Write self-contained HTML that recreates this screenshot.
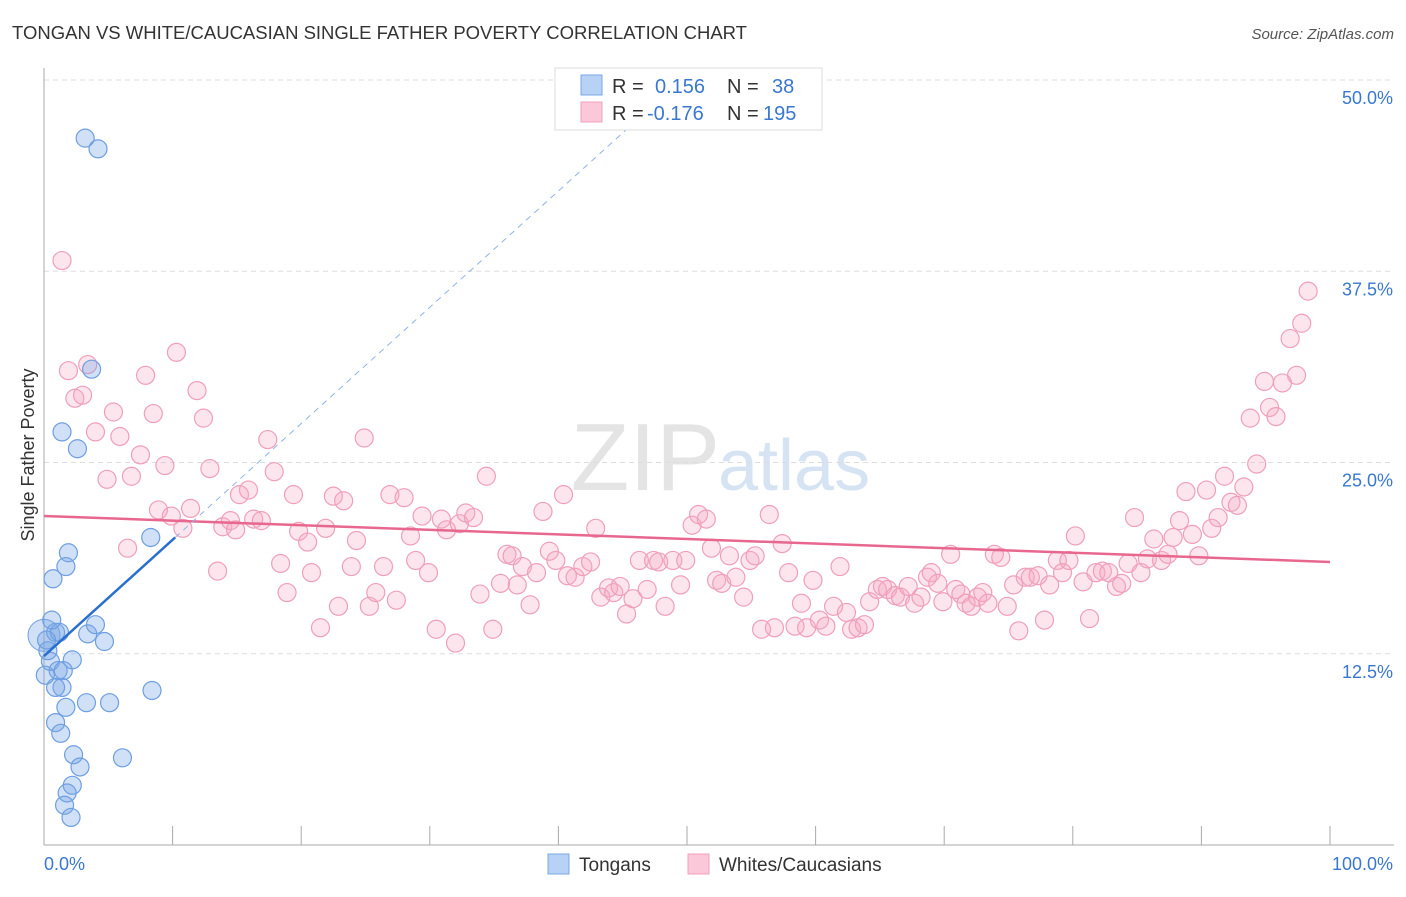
<!DOCTYPE html>
<html><head><meta charset="utf-8"><style>
body{margin:0;background:#fff;font-family:"Liberation Sans",sans-serif}
svg text{font-family:"Liberation Sans",sans-serif}
</style></head><body>
<svg id="c" width="1406" height="892">
<text x="12" y="39" font-size="18.5" fill="#333">TONGAN VS WHITE/CAUCASIAN SINGLE FATHER POVERTY CORRELATION CHART</text>
<text x="1394" y="39" font-size="15" fill="#555" font-style="italic" text-anchor="end">Source: ZipAtlas.com</text>
<text x="720" y="490" font-size="96" fill="#e4e4e4" text-anchor="end" font-family="Liberation Serif">ZIP</text>
<text x="718" y="490" font-size="72" fill="#d5e3f3">atlas</text>
<g id="grid"></g><g id="axes"></g><g id="pts"></g><g id="trend"></g>
<text transform="translate(34,455) rotate(-90)" font-size="18" fill="#333" text-anchor="middle">Single Father Poverty</text>
<g>
<rect x="555" y="68" width="267" height="62" fill="#fff" stroke="#ddd"/>
<rect x="581" y="75" width="21" height="20" fill="#b7d2f5" stroke="#7aa7e6"/>
<rect x="581" y="102" width="21" height="20" fill="#fac8d8" stroke="#f0a0ba"/>
<text x="612" y="93" font-size="20" fill="#333">R = </text><text x="655" y="93" font-size="20" fill="#3a78d0">0.156</text>
<text x="727" y="93" font-size="20" fill="#333">N = </text><text x="772" y="93" font-size="20" fill="#3a78d0">38</text>
<text x="612" y="120" font-size="20" fill="#333">R = </text><text x="647" y="120" font-size="20" fill="#3a78d0">-0.176</text>
<text x="727" y="120" font-size="20" fill="#333">N = </text><text x="763" y="120" font-size="20" fill="#3a78d0">195</text>
</g>
<g>
<rect x="548" y="854" width="21" height="20" fill="#b7d2f5" stroke="#7aa7e6"/>
<text x="579" y="871" font-size="19" fill="#333">Tongans</text>
<rect x="688" y="854" width="21" height="20" fill="#fac8d8" stroke="#f0a0ba"/>
<text x="719" y="871" font-size="19" fill="#333">Whites/Caucasians</text>
</g>
</svg>
<script>
const yTicks=[12.5,25,37.5,50];
const yTickLabels=["12.5%","25.0%","37.5%","50.0%"];
const blueX=[3.2,4.2,3.7,1.4,2.6,8.3,1.9,1.7,0.7,0.9,1.2,3.4,4.0,4.7,2.2,0.5,1.1,1.4,0.9,8.4,3.3,5.1,1.7,0.9,1.3,2.3,2.8,6.1,2.2,1.8,1.6,2.1,0.6,0.3,0.1,0.2,1.5];
const blueY=[46.2,45.5,31.1,27.0,25.9,20.1,19.1,18.2,17.4,13.9,13.9,13.8,14.4,13.3,12.1,12.0,11.4,10.3,10.3,10.1,9.3,9.3,9.0,8.0,7.3,5.9,5.1,5.7,3.9,3.4,2.6,1.8,14.7,12.7,11.1,13.4,11.4];
const pinkX=[1.4,1.9,3.4,2.4,3.0,4.0,5.4,4.9,5.9,6.5,7.5,7.9,8.5,6.8,9.4,10.3,11.9,12.4,12.9,8.9,9.9,10.8,11.4,13.5,13.9,14.5,14.9,15.2,15.9,16.3,16.9,17.4,17.9,18.4,18.9,19.4,19.8,20.5,20.8,21.5,21.9,22.5,22.9,23.3,23.9,24.3,24.9,25.3,25.8,26.4,26.9,27.4,28.0,28.5,28.9,29.4,29.9,30.5,30.9,31.3,32.0,32.3,32.8,33.4,33.9,34.4,34.9,35.5,36.0,36.4,36.8,37.2,37.8,38.3,38.8,39.3,39.8,40.4,40.7,41.3,41.9,42.5,42.9,43.3,43.9,44.3,44.8,45.3,45.8,46.3,46.9,47.4,47.8,48.3,48.9,49.5,49.9,50.4,50.9,51.5,51.9,52.3,52.7,53.3,53.8,54.4,54.9,55.3,55.8,56.4,56.8,57.4,57.9,58.4,58.9,59.3,59.8,60.3,60.8,61.4,61.9,62.4,62.8,63.3,63.8,64.2,64.8,65.2,65.6,66.2,66.6,67.2,67.7,68.2,68.7,69.0,69.5,69.9,70.5,70.9,71.3,71.7,72.1,72.6,73.0,73.4,73.9,74.4,74.9,75.4,75.8,76.3,76.7,77.3,77.8,78.2,78.8,79.2,79.7,80.2,80.8,81.3,81.8,82.3,82.8,83.4,83.8,84.3,84.8,85.3,85.8,86.3,86.9,87.4,87.8,88.3,88.8,89.3,89.8,90.4,90.8,91.3,91.8,92.3,92.8,93.3,93.8,94.3,94.9,95.3,95.8,96.3,96.9,97.4,97.8,98.3];
const pinkY=[38.2,31.0,31.4,29.2,29.4,27.0,28.3,23.9,26.7,19.4,25.5,30.7,28.2,24.1,24.8,32.2,29.7,27.9,24.6,21.9,21.5,20.7,22.0,17.9,20.8,21.2,20.6,22.9,23.2,21.3,21.2,26.5,24.4,18.4,16.5,22.9,20.5,19.8,17.8,14.2,20.7,22.8,15.6,22.5,18.2,19.9,26.6,15.6,16.5,18.2,22.9,16.0,22.7,20.2,18.6,21.5,17.8,14.1,21.3,20.6,13.2,21.0,21.7,21.4,16.4,24.1,14.1,17.1,19.0,18.9,17.0,18.2,15.7,17.8,21.8,19.2,18.6,22.9,17.6,17.5,18.2,18.5,20.7,16.2,16.8,16.5,16.9,15.1,16.1,18.6,16.7,18.6,18.5,15.6,18.6,17.0,18.6,20.9,21.6,21.3,19.4,17.3,17.1,18.9,17.5,16.2,18.6,18.9,14.1,21.6,14.2,19.7,17.8,14.3,15.8,14.2,17.3,14.7,14.3,15.6,18.2,15.2,14.1,14.2,14.4,15.9,16.7,16.9,16.7,16.3,16.2,16.9,15.8,16.2,17.5,17.8,17.1,15.9,19.0,16.7,16.4,15.8,15.6,16.2,16.5,15.8,19.0,18.8,15.6,17.0,14.0,17.5,17.5,17.6,14.7,17.0,18.6,17.8,18.6,20.2,17.2,14.8,17.8,17.9,17.8,16.9,17.1,18.4,21.4,17.8,18.7,20.0,18.6,19.0,20.1,21.2,23.1,20.3,18.9,23.2,20.7,21.4,24.1,22.4,22.2,23.4,27.9,24.9,30.3,28.6,28.0,30.2,33.1,30.7,34.1,36.2];
const pinkTrend=[21.5,18.5];
const blueTrend=[12.35,20.1,10.2];
const NS='http://www.w3.org/2000/svg';
const X=v=>44+v*12.86, Y=v=>845-v*15.3;
function mk(t,a,p){const e=document.createElementNS(NS,t);for(const k in a)e.setAttribute(k,a[k]);p.appendChild(e);return e;}
const grid=document.getElementById('grid'),axes=document.getElementById('axes'),pts=document.getElementById('pts'),tr=document.getElementById('trend');
yTicks.forEach((t,i)=>{
 const l=mk('line',{x1:44,x2:1394,y1:Y(t),y2:Y(t),stroke:'#ddd','stroke-dasharray':'5,4'},grid);
 
 
 const tx=mk('text',{x:1393,y:Y(t)+24,'font-size':18,fill:'#3a78d0','text-anchor':'end'},axes);
 tx.textContent=yTickLabels[i];
 
 
});
let ax=mk('line',{x1:44,x2:1394,y1:845,y2:845,stroke:'#aaa'},axes);


let ay=mk('line',{x1:44,x2:44,y1:68,y2:845,stroke:'#aaa'},axes);


for(let i=1;i<=10;i++){const t=mk('line',{x1:X(i*10),x2:X(i*10),y1:826,y2:845,stroke:'#aaa'},axes);
 
 }
[["0.0%",44,'start'],["100.0%",1393,'end']].forEach(d=>{const t=mk('text',{x:d[1],y:870,'font-size':18,fill:'#3a78d0','text-anchor':d[2]},axes);t.textContent=d[0];
 
 });
pinkX.forEach((x,i)=>{const c=mk('circle',{cx:X(x),cy:Y(pinkY[i]),r:9,fill:'rgba(246,170,196,0.3)',stroke:'#ef9fba','stroke-width':1.2},pts);
 
 });
const big=mk('circle',{cx:X(0),cy:Y(13.7),r:16,fill:'rgba(120,165,230,0.35)',stroke:'#6e9fe0'},pts);


blueX.forEach((x,i)=>{const c=mk('circle',{cx:X(x),cy:Y(blueY[i]),r:9,fill:'rgba(120,165,230,0.35)',stroke:'#6e9fe0','stroke-width':1.2},pts);
 
 });
const slope=(blueTrend[1]-blueTrend[0])/blueTrend[2];
let l1=mk('line',{x1:X(0),y1:Y(pinkTrend[0]),x2:X(100),y2:Y(pinkTrend[1]),stroke:'#e8678f','stroke-width':2.5},tr);


let l2=mk('line',{x1:X(blueTrend[2]),y1:Y(blueTrend[1]),x2:X(48),y2:Y(blueTrend[0]+slope*48),stroke:'#8fb3e8','stroke-width':1,'stroke-dasharray':'6,5'},tr);


let l3=mk('line',{x1:X(0),y1:Y(blueTrend[0]),x2:X(blueTrend[2]),y2:Y(blueTrend[1]),stroke:'#2a6fd0','stroke-width':2.5},tr);


</script>
</body></html>
